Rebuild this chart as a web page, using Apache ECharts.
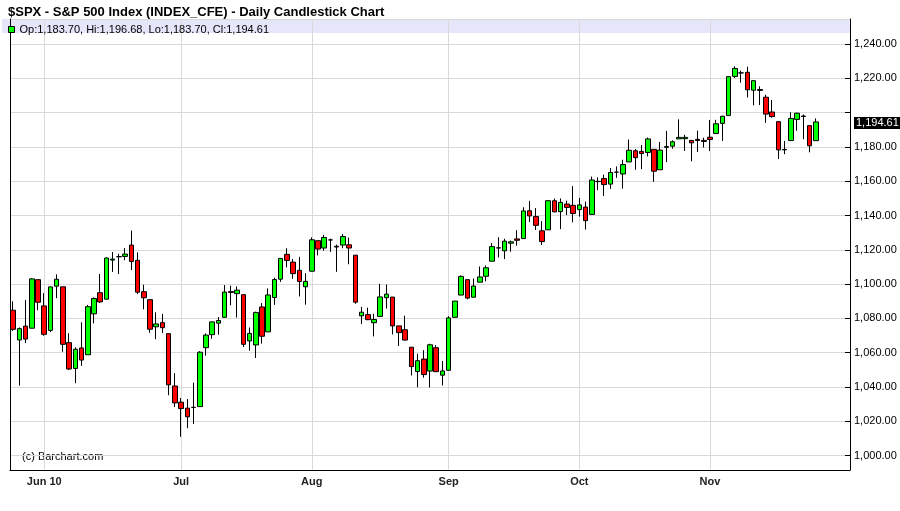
<!DOCTYPE html>
<html><head><meta charset="utf-8">
<script src="https://cdn.jsdelivr.net/npm/echarts@6/dist/echarts.min.js"></script>
<style>html,body{margin:0;padding:0;background:#fff}#c{width:900px;height:511px}</style>
</head><body><div id="c"></div>
<script>
const dates = ['2010-05-24','2010-05-25','2010-05-26','2010-05-27','2010-05-28',
'2010-06-01','2010-06-02','2010-06-03','2010-06-04','2010-06-07','2010-06-08','2010-06-09','2010-06-10','2010-06-11',
'2010-06-14','2010-06-15','2010-06-16','2010-06-17','2010-06-18','2010-06-21','2010-06-22','2010-06-23','2010-06-24','2010-06-25',
'2010-06-28','2010-06-29','2010-06-30','2010-07-01','2010-07-02','2010-07-06','2010-07-07','2010-07-08','2010-07-09',
'2010-07-12','2010-07-13','2010-07-14','2010-07-15','2010-07-16','2010-07-19','2010-07-20','2010-07-21','2010-07-22','2010-07-23',
'2010-07-26','2010-07-27','2010-07-28','2010-07-29','2010-07-30','2010-08-02','2010-08-03','2010-08-04','2010-08-05','2010-08-06',
'2010-08-09','2010-08-10','2010-08-11','2010-08-12','2010-08-13','2010-08-16','2010-08-17','2010-08-18','2010-08-19','2010-08-20',
'2010-08-23','2010-08-24','2010-08-25','2010-08-26','2010-08-27','2010-08-30','2010-08-31','2010-09-01','2010-09-02','2010-09-03',
'2010-09-07','2010-09-08','2010-09-09','2010-09-10','2010-09-13','2010-09-14','2010-09-15','2010-09-16','2010-09-17',
'2010-09-20','2010-09-21','2010-09-22','2010-09-23','2010-09-24','2010-09-27','2010-09-28','2010-09-29','2010-09-30','2010-10-01',
'2010-10-04','2010-10-05','2010-10-06','2010-10-07','2010-10-08','2010-10-11','2010-10-12','2010-10-13','2010-10-14','2010-10-15',
'2010-10-18','2010-10-19','2010-10-20','2010-10-21','2010-10-22','2010-10-25','2010-10-26','2010-10-27','2010-10-28','2010-10-29',
'2010-11-01','2010-11-02','2010-11-03','2010-11-04','2010-11-05','2010-11-08','2010-11-09','2010-11-10','2010-11-11','2010-11-12',
'2010-11-15','2010-11-16','2010-11-17','2010-11-18','2010-11-19','2010-11-22','2010-11-23','2010-11-24'];

const opens = [1084.78,1067.42,1075.51,1074.27,1102.59,
1087.30,1073.01,1098.82,1098.43,1065.84,1050.81,1062.75,1058.77,1082.65,
1095.00,1091.21,1114.02,1115.98,1116.16,1122.79,1113.90,1095.57,1090.93,1075.10,
1077.50,1071.10,1040.56,1031.10,1027.65,1028.09,1028.54,1062.92,1070.50,
1077.23,1080.65,1095.61,1094.46,1093.85,1066.85,1064.53,1086.67,1072.14,1092.17,
1102.89,1117.36,1112.84,1108.07,1098.44,1107.53,1125.34,1121.06,1125.78,1122.07,
1122.80,1122.92,1116.89,1081.48,1082.22,1077.49,1081.16,1092.08,1092.44,1075.63,
1073.36,1063.20,1048.98,1056.28,1049.27,1062.90,1046.88,1049.72,1080.66,1093.61,
1102.60,1092.36,1101.15,1104.57,1113.38,1121.16,1119.43,1123.89,1126.39,
1126.57,1142.82,1139.49,1131.10,1131.69,1148.64,1142.31,1146.75,1145.97,1143.49,
1144.96,1140.68,1159.81,1161.57,1158.36,1165.32,1164.28,1171.32,1177.82,1177.47,
1176.83,1178.64,1166.74,1179.82,1180.52,1184.74,1184.88,1183.84,1184.47,1183.87,
1185.71,1187.86,1193.79,1198.34,1221.20,1223.24,1223.59,1213.14,1213.04,1209.07,
1200.44,1194.79,1178.33,1183.75,1196.12,1198.07,1192.51,1183.70];

const highs = [1089.95,1074.75,1090.75,1103.52,1102.59,
1094.77,1098.56,1105.67,1098.43,1071.36,1063.15,1077.74,1087.85,1092.25,
1105.91,1115.59,1118.74,1117.72,1121.01,1131.23,1118.50,1099.64,1090.93,1083.56,
1082.60,1071.10,1048.08,1033.58,1032.95,1042.50,1060.89,1071.25,1078.16,
1080.78,1099.46,1099.08,1098.66,1093.85,1074.70,1083.94,1088.96,1097.50,1103.73,
1115.01,1120.95,1114.66,1115.90,1106.44,1127.30,1125.44,1128.75,1126.56,1123.06,
1129.24,1127.16,1116.89,1086.72,1086.25,1082.62,1100.14,1099.77,1092.44,1075.63,
1081.58,1063.20,1059.38,1061.45,1065.21,1064.40,1055.14,1081.30,1090.10,1105.10,
1102.60,1103.26,1110.27,1110.88,1123.87,1127.36,1126.46,1125.44,1131.47,
1144.86,1148.59,1144.38,1136.77,1148.90,1149.92,1150.00,1148.63,1157.16,1150.30,
1148.16,1162.76,1162.33,1163.87,1167.73,1168.68,1172.58,1184.38,1178.89,1181.20,
1185.53,1178.64,1182.94,1189.43,1183.93,1196.14,1187.11,1183.84,1189.53,1185.46,
1195.81,1195.88,1198.30,1221.25,1227.08,1224.57,1226.84,1218.75,1215.45,1210.50,
1207.43,1194.79,1183.56,1200.29,1199.97,1198.94,1192.51,1196.68];

const lows = [1072.70,1040.78,1065.59,1074.27,1084.78,
1069.89,1072.03,1091.81,1060.50,1049.86,1042.17,1052.25,1058.77,1077.12,
1089.03,1091.21,1107.13,1105.87,1113.93,1108.24,1094.18,1085.31,1071.60,1067.89,
1071.45,1035.18,1028.33,1010.91,1015.93,1018.35,1028.54,1058.24,1068.10,
1070.45,1080.65,1087.68,1080.53,1063.32,1061.11,1056.88,1065.25,1072.14,1087.88,
1101.30,1109.78,1103.11,1092.82,1088.01,1107.53,1116.76,1119.46,1118.81,1107.17,
1120.91,1111.58,1088.55,1076.69,1079.00,1069.49,1081.16,1085.76,1070.66,1063.91,
1067.08,1046.68,1039.83,1045.40,1039.70,1048.79,1040.88,1049.72,1080.39,1093.61,
1091.15,1092.36,1101.15,1101.62,1113.38,1115.58,1114.63,1118.88,1122.43,
1126.57,1136.22,1131.58,1122.79,1131.69,1142.00,1132.09,1140.26,1136.08,1139.42,
1131.87,1140.68,1154.85,1151.41,1155.58,1162.02,1155.71,1171.32,1166.71,1167.12,
1174.55,1159.71,1166.74,1171.17,1178.99,1184.74,1177.72,1171.70,1177.10,1179.70,
1177.65,1187.86,1183.56,1198.34,1220.29,1217.55,1208.94,1204.33,1204.49,1194.08,
1197.15,1173.00,1175.82,1183.75,1189.44,1184.58,1176.91,1183.70];

const closes = [1073.65,1074.03,1067.95,1103.06,1089.41,
1070.71,1098.38,1102.83,1064.88,1050.47,1062.00,1055.69,1086.84,1091.60,
1089.63,1115.23,1114.61,1116.04,1117.51,1113.20,1095.31,1092.04,1073.69,1076.76,
1074.57,1041.24,1030.71,1027.37,1022.58,1028.06,1060.27,1070.25,1077.96,
1078.75,1095.34,1095.17,1096.48,1064.88,1071.25,1083.48,1069.59,1093.67,1102.66,
1115.01,1113.84,1106.13,1101.53,1101.60,1125.86,1120.46,1127.24,1125.81,1121.64,
1127.79,1121.06,1089.47,1083.61,1079.25,1079.38,1092.54,1094.16,1075.63,1071.69,
1067.36,1051.87,1055.33,1047.22,1064.59,1048.92,1049.33,1080.29,1090.10,1104.51,
1091.84,1098.87,1104.18,1109.55,1121.90,1121.10,1125.07,1124.66,1125.59,
1142.71,1139.78,1134.28,1124.83,1148.67,1142.16,1147.70,1144.73,1141.20,1146.24,
1137.03,1160.75,1159.97,1158.06,1165.15,1165.32,1169.77,1178.10,1173.81,1176.19,
1184.71,1165.90,1178.17,1180.26,1183.08,1185.62,1185.64,1182.45,1183.78,1183.26,
1184.38,1193.57,1197.96,1221.06,1225.85,1223.25,1213.40,1218.71,1213.54,1199.21,
1197.75,1178.34,1178.59,1196.69,1199.73,1197.84,1180.73,1194.61];

const tickDates = ['2010-06-01','2010-07-01','2010-08-02','2010-09-01','2010-10-01','2010-11-01'];
const tickLabels = ['Jun 10','Jul','Aug','Sep','Oct','Nov'];

const titleText = '$SPX - S&P 500 Index (INDEX_CFE) - Daily Candlestick Chart';
const seriesName = '$SPX';

function fmt(v){ return v.toFixed(2).replace(/\B(?=(\d{3})+(?!\d))/g, ','); }
const n = closes.length;
const lastO = opens[n-1], lastH = highs[n-1], lastL = lows[n-1], lastC = closes[n-1];
const legendText = 'Op:' + fmt(lastO) + ', Hi:' + fmt(lastH) + ', Lo:' + fmt(lastL) + ', Cl:' + fmt(lastC);
const ohlc = opens.map((o, i) => [o, closes[i], lows[i], highs[i]]);
const isTick = (idx, val) => tickDates.indexOf(val) >= 0;
const FONT = '"Liberation Sans", Arial, Helvetica, sans-serif';

const chart = echarts.init(document.getElementById('c'), null, {renderer: 'canvas'});
chart.setOption({
  animation: false,
  backgroundColor: '#fff',
  textStyle: {fontFamily: FONT},
  title: {text: titleText, left: 3, top: 1, textStyle: {fontSize: 13, fontWeight: 'bold', color: '#000', fontFamily: FONT}},
  legend: {
    left: 3, top: 19, itemWidth: 6, itemHeight: 6, icon: 'rect', selectedMode: false,
    data: [seriesName],
    itemStyle: {color: '#00ff00', borderColor: '#000', borderWidth: 1},
    textStyle: {fontSize: 11, color: '#000', fontFamily: FONT},
    formatter: () => legendText
  },
  graphic: [
    {type: 'rect', z: -1, silent: true, shape: {x: 2, y: 19, width: 848, height: 14}, style: {fill: '#e6e6fa'}},
    {type: 'text', silent: true, x: 22, y: 457, style: {text: '(c) Barchart.com', font: '11px ' + FONT, fill: '#000', textVerticalAlign: 'middle'}}
  ],
  grid: {left: 10, right: 50, top: 19, bottom: 41},
  xAxis: {
    type: 'category', data: dates, max: 134, boundaryGap: true,
    axisLine: {lineStyle: {color: '#000', width: 1}},
    axisTick: {alignWithLabel: true, interval: isTick, length: 3, lineStyle: {color: '#000'}},
    axisLabel: {interval: isTick, formatter: v => { const k = tickDates.indexOf(v); return k >= 0 ? tickLabels[k] : ''; },
      fontWeight: 'bold', fontSize: 11, color: '#222', margin: 6, fontFamily: FONT},
    splitLine: {show: true, alignWithLabel: true, interval: isTick, lineStyle: {color: '#d9d9d9', width: 1}}
  },
  yAxis: [{
    type: 'value', position: 'right', min: 991.54, max: 1254.7, splitNumber: 13,
    axisLine: {show: true, lineStyle: {color: '#000'}},
    axisTick: {show: true, inside: true, length: 5, lineStyle: {color: '#000'}},
    axisLabel: {
      fontSize: 11, color: '#000', margin: 4, fontFamily: FONT, showMinLabel: false, showMaxLabel: false,
      formatter: v => {
        if (Math.abs(v / 20 - Math.round(v / 20)) > 1e-6) return '';
        if (Math.abs(v - lastC) < 12) return '';
        return fmt(v);
      }
    },
    splitLine: {show: true, lineStyle: {color: '#d9d9d9', width: 1}}
  }, {
    type: 'value', position: 'left', min: 991.54, max: 1254.7,
    axisLine: {show: true, lineStyle: {color: '#000'}},
    axisTick: {show: false}, axisLabel: {show: false}, splitLine: {show: false}
  }],
  series: [{
    name: seriesName, type: 'candlestick', data: ohlc, barWidth: 5,
    itemStyle: {color: '#00ff00', color0: '#ff0000', borderColor: '#000', borderColor0: '#000', borderWidth: 1},
    markLine: {
      silent: true, symbol: ['none', 'none'], animation: false,
      lineStyle: {color: 'rgba(0,0,0,0)', width: 1, type: 'solid'},
      label: {show: true, position: 'end', distance: 4, formatter: () => fmt(lastC),
        backgroundColor: '#000', color: '#fff', fontSize: 11, fontFamily: FONT, lineHeight: 12, padding: [0, 2, 0, 2], offset: [0, 1]},
      data: [{yAxis: lastC}]
    }
  }]
});
</script></body></html>
